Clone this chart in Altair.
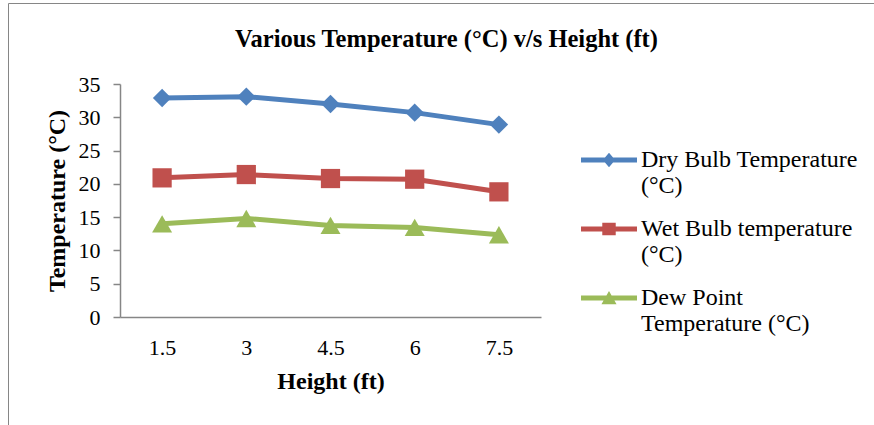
import json
import altair as alt
import pandas as pd

heights = ["1.5", "3", "4.5", "6", "7.5"]
series_names = ["Dry Bulb Temperature (°C)", "Wet Bulb temperature (°C)", "Dew Point Temperature (°C)"]
dry_bulb = [32.9, 33.1, 32.0, 30.7, 28.9]
wet_bulb = [20.9, 21.4, 20.8, 20.7, 18.8]
dew_point = [14.0, 14.8, 13.75, 13.45, 12.35]
legend_lines = [["Dry Bulb Temperature", "(°C)"], ["Wet Bulb temperature", "(°C)"], ["Dew Point", "Temperature (°C)"]]
colors = ["#4F81BD", "#C0504D", "#9BBB59"]
y_ticks = [0, 5, 10, 15, 20, 25, 30, 35]

rows = []
for name, vals in zip(series_names, [dry_bulb, wet_bulb, dew_point]):
    for h, v in zip(heights, vals):
        rows.append({"height": h, "temp": v, "series": name})
df = pd.DataFrame(rows)

FONT = "Liberation Serif"
AXIS_GRAY = "#868686"

x_enc = alt.X("height:O", sort=heights,
              scale=alt.Scale(type="point", padding=0.5),
              axis=alt.Axis(title="Height (ft)", labelAngle=0, ticks=False, tickSize=0,
                            labelPadding=30, labelBaseline="middle",
                            labelFont=FONT, labelFontSize=22, labelColor="black",
                            titleFont=FONT, titleFontSize=24, titleFontWeight="bold",
                            titleColor="black", titleY=64, titleBaseline="middle",
                            domainColor=AXIS_GRAY, domainWidth=1.5, grid=False))
y_enc = alt.Y("temp:Q",
              scale=alt.Scale(domain=[0, 35], nice=False, zero=True),
              axis=alt.Axis(title="Temperature (°C)", values=y_ticks, tickSize=7,
                            tickColor=AXIS_GRAY, tickWidth=1.5,
                            labelPadding=13, labelFont=FONT, labelFontSize=22,
                            labelColor="black",
                            titleFont=FONT, titleFontSize=24, titleFontWeight="bold",
                            titleColor="black", titleX=-63, titleY=116.5,
                            titleBaseline="middle", titleAlign="center", titleAngle=-90,
                            domainColor=AXIS_GRAY, domainWidth=1.5, grid=False))

color_scale = alt.Scale(domain=series_names, range=colors)

lines = alt.Chart(df).mark_line(strokeWidth=5, strokeJoin="round").encode(
    x=x_enc, y=y_enc,
    color=alt.Color("series:N", scale=color_scale, legend=None),
)

points = alt.Chart(df).mark_point(filled=True, opacity=1).encode(
    x=x_enc, y=y_enc,
    color=alt.Color("series:N", scale=color_scale, legend=None),
    shape=alt.Shape("series:N", scale=alt.Scale(domain=series_names,
                                                range=["diamond", "square", "triangle-up"]),
                    legend=None),
    size=alt.Size("series:N", scale=alt.Scale(domain=series_names, range=[340, 400, 420]),
                  legend=None),
)

bar = "M-1,-0.09L1,-0.09L1,0.09L-1,0.09Z"
legend_paths = [
    bar + "M0,-0.26L0.22,0L0,0.26L-0.22,0Z",
    bar + "M-0.24,-0.22L0.24,-0.22L0.24,0.22L-0.24,0.22Z",
    bar + "M0,-0.25L0.27,0.22L-0.27,0.22Z",
]

label_map = {n: l for n, l in zip(series_names, legend_lines)}
label_expr = ""
for n in series_names[:-1]:
    label_expr += f"datum.label == {json.dumps(n, ensure_ascii=False)} ? {json.dumps(label_map[n], ensure_ascii=False)} : "
label_expr += json.dumps(label_map[series_names[-1]], ensure_ascii=False)

legend_layer = alt.Chart(df).mark_point(filled=True, opacity=1).encode(
    x=x_enc, y=y_enc,
    color=alt.Color("series:N", scale=color_scale,
                    legend=alt.Legend(title=None, orient="none", legendX=461, legendY=48,
                                      symbolSize=3136, symbolStrokeWidth=0,
                                      labelFont=FONT, labelFontSize=24, labelColor="black",
                                      labelLimit=400, labelOffset=4, labelBaseline="middle",
                                      labelExpr=label_expr, rowPadding=3)),
    shape=alt.Shape("series:N", scale=alt.Scale(domain=series_names, range=legend_paths)),
).transform_filter("false")

frame = alt.Chart(alt.Data(values=[{"k": 1}])).mark_rect(
    fillOpacity=0, stroke=AXIS_GRAY, strokeWidth=1
).encode(x=alt.value(-111.5), x2=alt.value(800), y=alt.value(-80.5), y2=alt.value(400))

chart = alt.layer(frame, lines, points, legend_layer).resolve_scale(
    color="independent", shape="independent", size="independent"
).properties(
    width=421, height=233,
    title=alt.TitleParams("Various Temperature (°C) v/s Height (ft)", font=FONT,
                          fontSize=24.5, fontWeight="bold", color="black",
                          anchor="middle", frame="group", dx=116, dy=105, offset=44,
                          baseline="middle"),
    autosize=alt.AutoSizeParams(type="none"),
    padding={"left": 120, "top": 84, "right": 333, "bottom": 108},
    background="white",
).configure_view(stroke=None)

chart.save("out.html", embed_options={"renderer": "svg", "actions": False})
